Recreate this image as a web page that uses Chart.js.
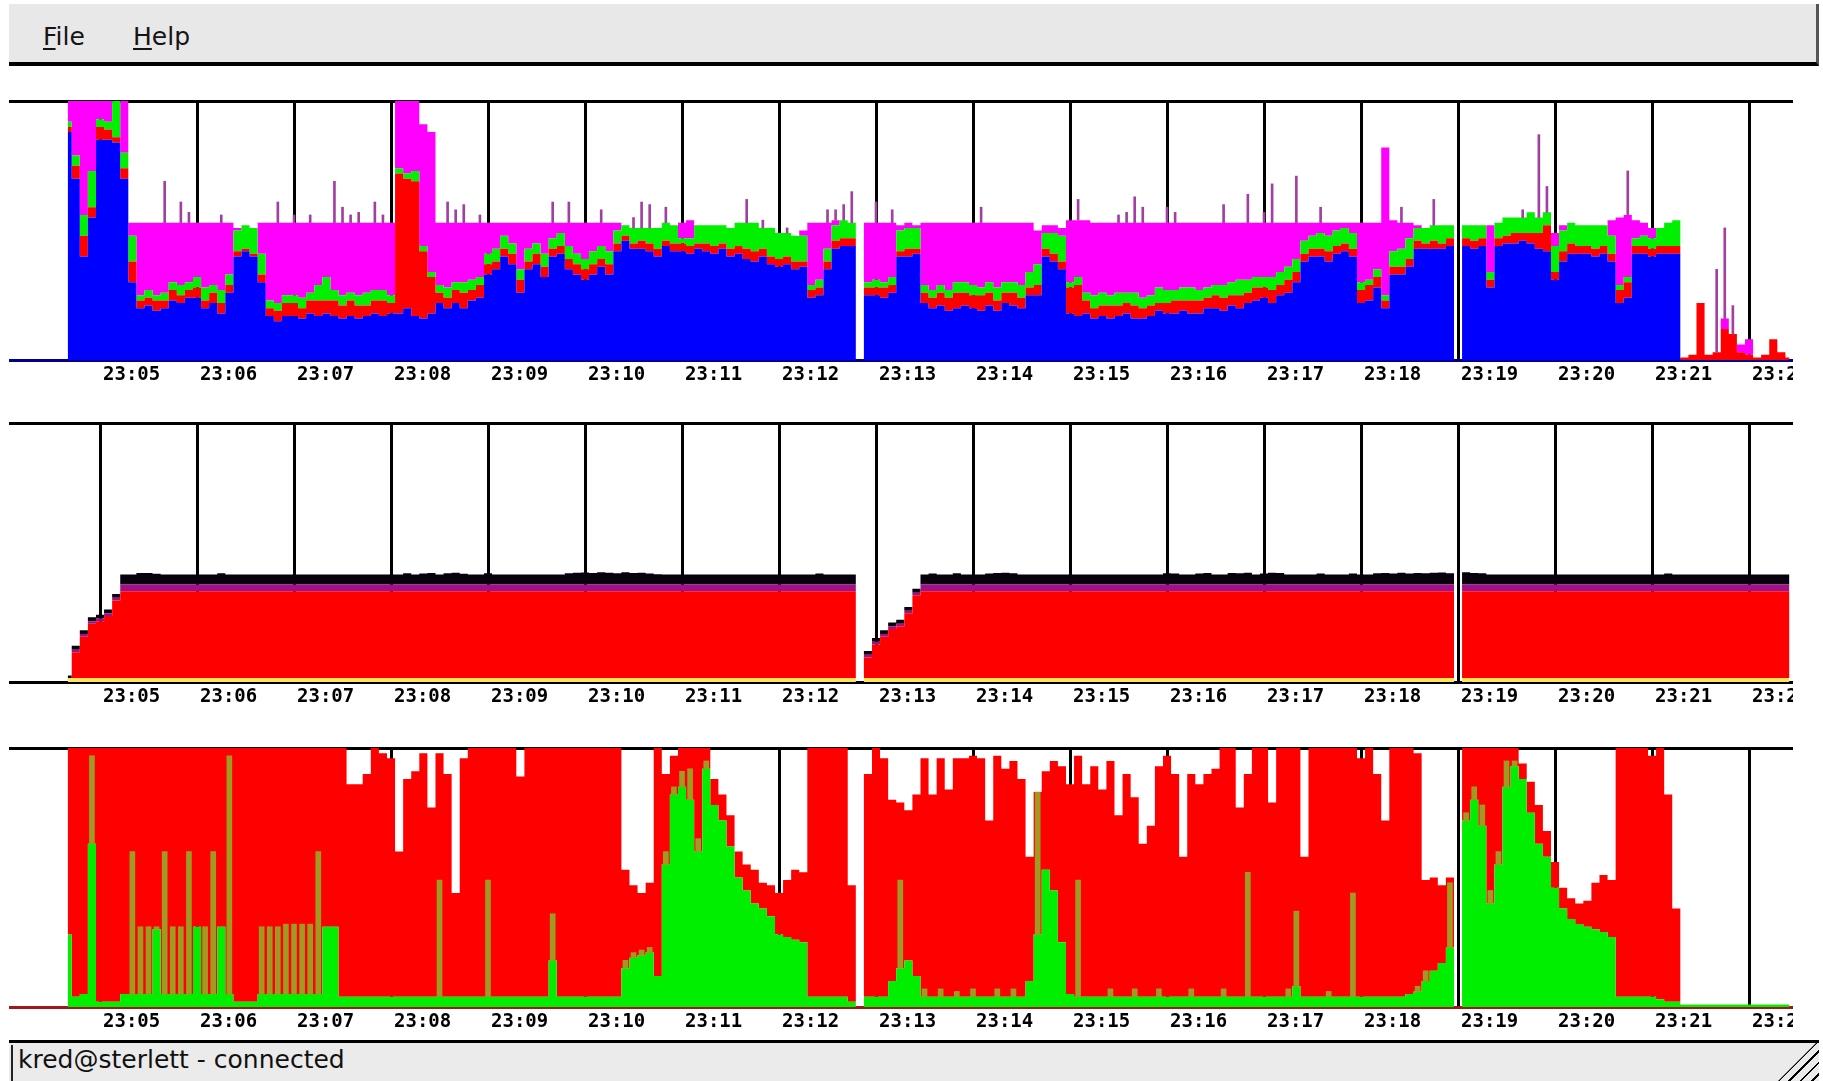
<!DOCTYPE html>
<html lang="en">
<head>
<meta charset="utf-8">
<title>kred@sterlett - monitor</title>
<script src="https://cdn.jsdelivr.net/npm/chart.js@4.4.1/dist/chart.umd.min.js"></script>
<style>
  html, body { margin: 0; padding: 0; background: #fff; }
  body { position: relative; width: 1823px; height: 1081px; overflow: hidden; font-family: "DejaVu Sans", sans-serif; }
  #menubar { position: absolute; left: 9px; top: 4px; width: 1807px; height: 58px; background: #e8e8e8; border-bottom: 4px solid #000; border-right: 3px solid #555; }
  .menu { position: absolute; top: 20px; font-size: 25px; line-height: 25px; color: #151515; white-space: nowrap; }
  .menu u { text-decoration-thickness: 2px; text-underline-offset: 3px; }
  .plot { position: absolute; left: 9px; width: 1784px; height: 293px; }
  #statusbar { position: absolute; left: 9px; top: 1040px; width: 1810px; height: 41px; border-top: 3px solid #000; background: #ebebeb; }
  #status-text { position: absolute; left: 2px; top: 2px; height: 40px; padding: 2px 0 0 5px; border-left: 2px solid #222; font-size: 25px; line-height: 25px; color: #111; white-space: nowrap; }
  #grip { position: absolute; right: 0; bottom: 0; width: 44px; height: 44px;
          background: repeating-linear-gradient(135deg, transparent 0 6px, #000 6px 8px);
          clip-path: polygon(100% 0, 100% 100%, 0 100%); }
</style>
</head>
<body>
<div id="menubar">
  <span class="menu" style="left:34px"><u>F</u>ile</span>
  <span class="menu" style="left:124px"><u>H</u>elp</span>
</div>

<canvas id="chart-cpu" class="plot" width="1784" height="293" style="top:97px"></canvas>
<canvas id="chart-mem" class="plot" width="1784" height="293" style="top:419px"></canvas>
<canvas id="chart-net" class="plot" width="1784" height="293" style="top:744px"></canvas>

<div id="statusbar">
  <div id="status-text">kred@sterlett - connected</div>
  <div id="grip"></div>
</div>

<script>
// ============================================================================
// TIME AXIS (seconds relative to 23:05:00, one sample every 5 s)
// ============================================================================

const SAMPLE_START_S = -20;
const SAMPLE_STEP_S = 5;
const AXIS_MIN_S = -56.3;
const AXIS_MAX_S = 1047.2;

const tickSeconds = [0, 60, 120, 180, 240, 300, 360, 420, 480, 540, 600, 660, 720, 780, 840, 900, 960, 1020];
const tickLabels = ['23:05', '23:06', '23:07', '23:08', '23:09', '23:10', '23:11', '23:12', '23:13',
                    '23:14', '23:15', '23:16', '23:17', '23:18', '23:19', '23:20', '23:21', '23:22'];

// ============================================================================
// TOP STRIP - cpu (percent of strip height, stacked bottom -> top)
// rows: lead-in (4), then one row of 12 samples per minute, last row 6
// ============================================================================

const cpuBlue = [
  88, 70, 40, 55,
  85, 85, 84, 70, 30, 20, 21, 19, 20, 23, 22, 24,
  24, 20, 22, 18, 26, 40, 42, 40, 30, 17, 15, 17,
  17, 16, 18, 17, 18, 17, 16, 17, 16, 17, 18, 17,
  18, 18, 20, 17, 16, 18, 22, 20, 22, 20, 23, 24,
  33, 35, 40, 37, 26, 35, 37, 32, 40, 41, 35, 33,
  31, 33, 36, 33, 42, 46, 43, 43, 42, 40, 44, 42,
  42, 41, 43, 42, 41, 43, 40, 41, 39, 38, 40, 37,
  36, 37, 35, 36, 24, 25, 35, 43, 44, 44, 0, 25,
  25, 24, 26, 40, 40, 41, 22, 20, 21, 19, 20, 21,
  20, 19, 21, 19, 22, 21, 20, 25, 25, 40, 38, 35,
  18, 17, 18, 16, 17, 16, 17, 18, 16, 16, 17, 19,
  18, 18, 19, 18, 18, 20, 20, 19, 21, 20, 22, 23,
  24, 22, 25, 26, 30, 38, 40, 40, 38, 41, 42, 40,
  22, 23, 28, 20, 33, 33, 36, 43, 43, 43, 43, 44,
  0, 44, 43, 44, 28, 44, 45, 45, 46, 45, 43, 42,
  31, 38, 41, 41, 41, 40, 41, 38, 22, 24, 41, 41,
  40, 41, 41, 41, 0, 0, 0, 0, 0, 0, 0, 0,
  0, 0, 0, 0, 0, 0
];

const cpuRed = [
  2, 5, 8, 4,
  5, 4, 2, 4, 8, 3, 3, 4, 3, 4, 3, 3,
  4, 3, 4, 4, 3, 2, 1, 1, 3, 3, 4, 5,
  5, 4, 5, 6, 5, 6, 5, 6, 5, 4, 5, 6,
  4, 54, 50, 52, 26, 14, 4, 4, 5, 6, 4, 5,
  4, 3, 3, 4, 5, 3, 4, 4, 3, 3, 4, 4,
  4, 4, 3, 4, 3, 2, 2, 3, 3, 3, 2, 3,
  3, 3, 2, 3, 3, 2, 3, 3, 4, 4, 3, 3,
  3, 3, 3, 2, 3, 3, 3, 3, 3, 3, 0, 3,
  3, 4, 3, 2, 3, 2, 4, 4, 5, 5, 6, 5,
  5, 6, 5, 4, 4, 5, 4, 3, 4, 3, 3, 3,
  10, 12, 5, 4, 4, 5, 4, 4, 5, 4, 4, 3,
  4, 5, 4, 5, 5, 4, 5, 5, 4, 5, 4, 5,
  4, 5, 4, 5, 4, 3, 3, 3, 4, 3, 3, 3,
  5, 6, 4, 3, 3, 3, 3, 3, 2, 3, 2, 3,
  0, 3, 3, 3, 3, 3, 3, 4, 3, 4, 6, 10,
  3, 4, 4, 3, 3, 3, 3, 3, 5, 6, 3, 3,
  3, 3, 3, 3, 1, 2, 22, 2, 3, 12, 10, 3,
  2, 1, 2, 8, 3, 1
];

const cpuGreen = [
  2, 4, 8, 14,
  3, 3, 14, 6, 10, 2, 3, 2, 3, 3, 4, 3,
  4, 5, 3, 5, 4, 8, 9, 10, 8, 3, 3, 3,
  3, 4, 3, 6, 9, 4, 4, 3, 4, 5, 4, 4,
  3, 2, 2, 4, 2, 2, 3, 4, 3, 4, 4, 3,
  4, 5, 5, 4, 4, 5, 4, 5, 4, 5, 5, 4,
  4, 5, 5, 5, 5, 4, 6, 5, 6, 8, 7, 7,
  2, 3, 7, 7, 8, 7, 8, 9, 10, 11, 8, 11,
  10, 9, 10, 10, 2, 3, 5, 6, 7, 6, 0, 2,
  3, 2, 3, 8, 8, 8, 3, 3, 3, 3, 4, 4,
  4, 3, 4, 5, 4, 4, 5, 6, 8, 6, 8, 10,
  2, 3, 3, 5, 5, 4, 5, 4, 5, 4, 4, 6,
  5, 4, 5, 5, 4, 4, 4, 5, 5, 6, 5, 4,
  4, 5, 5, 5, 5, 5, 5, 6, 6, 6, 6, 6,
  3, 2, 3, 2, 6, 7, 8, 5, 6, 6, 7, 5,
  0, 5, 6, 5, 3, 6, 7, 6, 6, 8, 6, 5,
  10, 8, 8, 8, 8, 9, 8, 7, 2, 2, 3, 4,
  4, 7, 9, 10, 0, 0, 0, 0, 0, 0, 0, 0,
  0, 0, 0, 0, 0, 0
];

const cpuMagenta = [
  8, 21, 44, 27,
  7, 8, 0, 20, 5, 28, 26, 28, 27, 23, 24, 23,
  21, 25, 24, 26, 20, 1, 0, 0, 12, 30, 31, 28,
  28, 29, 27, 24, 21, 26, 28, 27, 28, 27, 26, 26,
  28, 26, 28, 27, 47, 54, 24, 25, 23, 23, 22, 21,
  12, 10, 5, 8, 18, 10, 8, 12, 6, 4, 9, 12,
  14, 11, 9, 11, 3, 0, 0, 0, 0, 0, 0, 0,
  6, 7, 0, 0, 0, 0, 0, 0, 0, 0, 0, 0,
  0, 0, 0, 2, 24, 22, 10, 2, 0, 0, 0, 23,
  22, 23, 21, 2, 2, 1, 24, 26, 24, 26, 23, 23,
  24, 25, 23, 25, 23, 23, 24, 19, 13, 3, 3, 3,
  24, 22, 28, 28, 27, 28, 27, 27, 27, 29, 28, 25,
  26, 26, 25, 25, 26, 25, 24, 24, 23, 22, 22, 21,
  21, 21, 19, 17, 14, 7, 5, 4, 5, 3, 2, 4,
  23, 22, 18, 57, 12, 10, 6, 1, 0, 0, 0, 0,
  0, 0, 0, 0, 18, 0, 0, 0, 0, 0, 0, 0,
  5, 2, 0, 0, 0, 0, 0, 6, 26, 24, 7, 5,
  4, 0, 0, 0, 0, 0, 0, 0, 0, 4, 0, 3,
  6, 0, 0, 0, 0, 0
];

// single-sample peaks above the stack, drawn as thin bars
const cpuSpikes = [
  0, 0, 0, 0,
  0, 0, 0, 0, 0, 0, 0, 0, 16, 0, 8, 4,
  0, 0, 0, 3, 0, 0, 0, 0, 0, 0, 8, 0,
  3, 0, 3, 0, 0, 16, 6, 3, 4, 0, 8, 3,
  0, 0, 0, 0, 0, 0, 0, 8, 5, 7, 0, 3,
  0, 0, 0, 0, 0, 0, 0, 0, 8, 0, 8, 0,
  0, 0, 5, 0, 0, 0, 4, 10, 9, 0, 6, 0,
  0, 0, 0, 0, 0, 0, 0, 0, 9, 0, 3, 0,
  0, 2, 0, 0, 0, 0, 5, 4, 6, 12, 0, 0,
  8, 0, 5, 0, 0, 0, 0, 0, 0, 0, 0, 0,
  0, 6, 0, 0, 0, 0, 0, 0, 0, 0, 0, 0,
  0, 8, 0, 0, 0, 0, 3, 4, 10, 6, 0, 0,
  6, 4, 0, 0, 0, 0, 0, 7, 0, 0, 11, 0,
  4, 15, 0, 0, 18, 0, 0, 6, 0, 0, 0, 0,
  0, 0, 0, 0, 0, 6, 0, 0, 0, 10, 0, 0,
  0, 0, 0, 0, 0, 0, 0, 0, 3, 0, 32, 10,
  0, 0, 0, 0, 0, 0, 0, 0, 0, 17, 0, 0,
  0, 0, 0, 0, 0, 0, 0, 0, 32, 35, 11, 0,
  0, 0, 0, 0, 0, 0
];

// ============================================================================
// MIDDLE STRIP - memory
// ============================================================================

const memYellow = [
  1.5, 1.5, 1.5, 1.5,
  1.5, 1.5, 1.5, 1.5, 1.5, 1.5, 1.5, 1.5, 1.5, 1.5, 1.5, 1.5,
  1.5, 1.5, 1.5, 1.5, 1.5, 1.5, 1.5, 1.5, 1.5, 1.5, 1.5, 1.5,
  1.5, 1.5, 1.5, 1.5, 1.5, 1.5, 1.5, 1.5, 1.5, 1.5, 1.5, 1.5,
  1.5, 1.5, 1.5, 1.5, 1.5, 1.5, 1.5, 1.5, 1.5, 1.5, 1.5, 1.5,
  1.5, 1.5, 1.5, 1.5, 1.5, 1.5, 1.5, 1.5, 1.5, 1.5, 1.5, 1.5,
  1.5, 1.5, 1.5, 1.5, 1.5, 1.5, 1.5, 1.5, 1.5, 1.5, 1.5, 1.5,
  1.5, 1.5, 1.5, 1.5, 1.5, 1.5, 1.5, 1.5, 1.5, 1.5, 1.5, 1.5,
  1.5, 1.5, 1.5, 1.5, 1.5, 1.5, 1.5, 1.5, 1.5, 1.5, 0, 1.5,
  1.5, 1.5, 1.5, 1.5, 1.5, 1.5, 1.5, 1.5, 1.5, 1.5, 1.5, 1.5,
  1.5, 1.5, 1.5, 1.5, 1.5, 1.5, 1.5, 1.5, 1.5, 1.5, 1.5, 1.5,
  1.5, 1.5, 1.5, 1.5, 1.5, 1.5, 1.5, 1.5, 1.5, 1.5, 1.5, 1.5,
  1.5, 1.5, 1.5, 1.5, 1.5, 1.5, 1.5, 1.5, 1.5, 1.5, 1.5, 1.5,
  1.5, 1.5, 1.5, 1.5, 1.5, 1.5, 1.5, 1.5, 1.5, 1.5, 1.5, 1.5,
  1.5, 1.5, 1.5, 1.5, 1.5, 1.5, 1.5, 1.5, 1.5, 1.5, 1.5, 1.5,
  0, 1.5, 1.5, 1.5, 1.5, 1.5, 1.5, 1.5, 1.5, 1.5, 1.5, 1.5,
  1.5, 1.5, 1.5, 1.5, 1.5, 1.5, 1.5, 1.5, 1.5, 1.5, 1.5, 1.5,
  1.5, 1.5, 1.5, 1.5, 1.5, 1.5, 1.5, 1.5, 1.5, 1.5, 1.5, 1.5,
  1.5, 1.5, 1.5, 1.5, 1.5, 1.5
];

const memRed = [
  0, 10, 16, 21,
  22, 24, 30, 33.5, 33.5, 33.5, 33.5, 33.5, 33.5, 33.5, 33.5, 33.5,
  33.5, 33.5, 33.5, 33.5, 33.5, 33.5, 33.5, 33.5, 33.5, 33.5, 33.5, 33.5,
  33.5, 33.5, 33.5, 33.5, 33.5, 33.5, 33.5, 33.5, 33.5, 33.5, 33.5, 33.5,
  33.5, 33.5, 33.5, 33.5, 33.5, 33.5, 33.5, 33.5, 33.5, 33.5, 33.5, 33.5,
  33.5, 33.5, 33.5, 33.5, 33.5, 33.5, 33.5, 33.5, 33.5, 33.5, 33.5, 33.5,
  33.5, 33.5, 33.5, 33.5, 33.5, 33.5, 33.5, 33.5, 33.5, 33.5, 33.5, 33.5,
  33.5, 33.5, 33.5, 33.5, 33.5, 33.5, 33.5, 33.5, 33.5, 33.5, 33.5, 33.5,
  33.5, 33.5, 33.5, 33.5, 33.5, 33.5, 33.5, 33.5, 33.5, 33.5, 0, 8,
  13, 16, 19, 20, 25, 32, 33.5, 33.5, 33.5, 33.5, 33.5, 33.5,
  33.5, 33.5, 33.5, 33.5, 33.5, 33.5, 33.5, 33.5, 33.5, 33.5, 33.5, 33.5,
  33.5, 33.5, 33.5, 33.5, 33.5, 33.5, 33.5, 33.5, 33.5, 33.5, 33.5, 33.5,
  33.5, 33.5, 33.5, 33.5, 33.5, 33.5, 33.5, 33.5, 33.5, 33.5, 33.5, 33.5,
  33.5, 33.5, 33.5, 33.5, 33.5, 33.5, 33.5, 33.5, 33.5, 33.5, 33.5, 33.5,
  33.5, 33.5, 33.5, 33.5, 33.5, 33.5, 33.5, 33.5, 33.5, 33.5, 33.5, 33.5,
  0, 33.5, 33.5, 33.5, 33.5, 33.5, 33.5, 33.5, 33.5, 33.5, 33.5, 33.5,
  33.5, 33.5, 33.5, 33.5, 33.5, 33.5, 33.5, 33.5, 33.5, 33.5, 33.5, 33.5,
  33.5, 33.5, 33.5, 33.5, 33.5, 33.5, 33.5, 33.5, 33.5, 33.5, 33.5, 33.5,
  33.5, 33.5, 33.5, 33.5, 33.5, 33.5
];

const memPurple = [
  0, 1, 1, 1,
  1, 1, 1, 2.6, 2.6, 2.6, 2.6, 2.6, 2.6, 2.6, 2.6, 2.6,
  2.6, 2.6, 2.6, 2.6, 2.6, 2.6, 2.6, 2.6, 2.6, 2.6, 2.6, 2.6,
  2.6, 2.6, 2.6, 2.6, 2.6, 2.6, 2.6, 2.6, 2.6, 2.6, 2.6, 2.6,
  2.6, 2.6, 2.6, 2.6, 2.6, 2.6, 2.6, 2.6, 2.6, 2.6, 2.6, 2.6,
  2.6, 2.6, 2.6, 2.6, 2.6, 2.6, 2.6, 2.6, 2.6, 2.6, 2.6, 2.6,
  2.6, 2.6, 2.6, 2.6, 2.6, 2.6, 2.6, 2.6, 2.6, 2.6, 2.6, 2.6,
  2.6, 2.6, 2.6, 2.6, 2.6, 2.6, 2.6, 2.6, 2.6, 2.6, 2.6, 2.6,
  2.6, 2.6, 2.6, 2.6, 2.6, 2.6, 2.6, 2.6, 2.6, 2.6, 0, 1,
  1, 1, 1, 1, 1, 1, 2.6, 2.6, 2.6, 2.6, 2.6, 2.6,
  2.6, 2.6, 2.6, 2.6, 2.6, 2.6, 2.6, 2.6, 2.6, 2.6, 2.6, 2.6,
  2.6, 2.6, 2.6, 2.6, 2.6, 2.6, 2.6, 2.6, 2.6, 2.6, 2.6, 2.6,
  2.6, 2.6, 2.6, 2.6, 2.6, 2.6, 2.6, 2.6, 2.6, 2.6, 2.6, 2.6,
  2.6, 2.6, 2.6, 2.6, 2.6, 2.6, 2.6, 2.6, 2.6, 2.6, 2.6, 2.6,
  2.6, 2.6, 2.6, 2.6, 2.6, 2.6, 2.6, 2.6, 2.6, 2.6, 2.6, 2.6,
  0, 2.6, 2.6, 2.6, 2.6, 2.6, 2.6, 2.6, 2.6, 2.6, 2.6, 2.6,
  2.6, 2.6, 2.6, 2.6, 2.6, 2.6, 2.6, 2.6, 2.6, 2.6, 2.6, 2.6,
  2.6, 2.6, 2.6, 2.6, 2.6, 2.6, 2.6, 2.6, 2.6, 2.6, 2.6, 2.6,
  2.6, 2.6, 2.6, 2.6, 2.6, 2.6
];

const memBlack = [
  1, 1.5, 1.5, 1.5,
  1.5, 1.5, 1.5, 3.9, 3.9, 4.5, 4.5, 4.2, 3.9, 3.9, 3.9, 3.9,
  3.9, 3.9, 3.9, 4.4, 3.9, 3.9, 3.9, 3.9, 3.9, 3.9, 3.9, 3.9,
  3.9, 3.9, 3.9, 3.9, 3.9, 3.9, 3.9, 3.9, 3.9, 3.9, 3.9, 3.9,
  3.9, 3.9, 4.4, 3.9, 4.3, 4.5, 3.9, 4.4, 4.6, 4.2, 3.9, 3.9,
  4.4, 3.9, 3.9, 3.9, 3.9, 3.9, 3.9, 3.9, 3.9, 3.9, 4.4, 4.6,
  4.7, 4.5, 4.8, 4.6, 4.4, 4.8, 4.5, 4.6, 4.3, 4.0, 3.9, 3.9,
  3.9, 3.9, 3.9, 3.9, 3.9, 3.9, 3.9, 3.9, 3.9, 3.9, 3.9, 3.9,
  3.9, 3.9, 3.9, 3.9, 3.9, 4.3, 3.9, 3.9, 3.9, 3.9, 0, 1.5,
  1.5, 1.5, 1.5, 1.5, 1.5, 1.5, 3.9, 4.3, 3.9, 3.9, 4.4, 3.9,
  3.9, 3.9, 4.3, 4.5, 4.6, 4.4, 3.9, 3.9, 3.9, 3.9, 3.9, 3.9,
  3.9, 3.9, 3.9, 3.9, 3.9, 3.9, 3.9, 3.9, 3.9, 3.9, 3.9, 3.9,
  4.4, 4.3, 3.9, 3.9, 4.3, 4.5, 3.9, 3.9, 4.5, 4.4, 4.6, 3.9,
  4.3, 4.6, 4.5, 3.9, 3.9, 3.9, 3.9, 4.3, 3.9, 3.9, 3.9, 4.3,
  3.9, 3.9, 4.4, 4.5, 4.3, 4.6, 4.3, 4.5, 4.4, 4.6, 4.7, 4.4,
  0, 4.8, 4.5, 4.4, 3.9, 3.9, 3.9, 3.9, 3.9, 3.9, 3.9, 3.9,
  3.9, 3.9, 3.9, 3.9, 3.9, 3.9, 3.9, 3.9, 3.9, 3.9, 3.9, 3.9,
  3.9, 3.9, 4.3, 3.9, 3.9, 3.9, 3.9, 3.9, 3.9, 3.9, 3.9, 3.9,
  3.9, 3.9, 3.9, 3.9, 3.9, 3.9
];

// ============================================================================
// BOTTOM STRIP - network / disk
// ============================================================================

const netGreen = [
  28, 4, 5, 63,
  2, 2, 2, 5, 5, 5, 5, 30, 5, 5, 5, 5,
  31, 5, 5, 31, 5, 2, 2, 2, 5, 5, 5, 5,
  5, 5, 5, 5, 31, 31, 4, 4, 4, 4, 4, 4,
  4, 4, 4, 4, 4, 4, 4, 4, 4, 4, 4, 4,
  4, 4, 4, 4, 4, 4, 4, 4, 18, 4, 4, 4,
  4, 4, 4, 4, 4, 15, 19, 20, 21, 12, 55, 82,
  85, 80, 60, 92, 78, 72, 62, 50, 45, 40, 38, 35,
  28, 27, 26, 25, 4, 4, 4, 4, 4, 2, 0, 4,
  4, 4, 10, 15, 18, 12, 4, 4, 4, 4, 4, 4,
  4, 4, 4, 4, 4, 4, 4, 10, 28, 53, 45, 25,
  5, 4, 4, 4, 4, 4, 4, 4, 4, 4, 4, 4,
  4, 4, 4, 4, 4, 4, 4, 4, 4, 4, 4, 4,
  4, 4, 4, 4, 8, 4, 4, 4, 4, 4, 4, 4,
  4, 4, 4, 4, 4, 4, 5, 6, 10, 14, 17, 23,
  0, 72, 80, 70, 40, 55, 85, 93, 88, 75, 63, 58,
  46, 38, 34, 32, 31, 30, 29, 27, 4, 4, 4, 4,
  4, 3, 2, 2, 1, 1, 1, 1, 1, 1, 1, 1,
  1, 1, 1, 1, 1, 1
];

// olive bars sit on top of the green, inside the red
const netOlive = [
  0, 0, 0, 34,
  0, 0, 0, 0, 55, 26, 26, 1, 55, 26, 26, 55,
  0, 26, 55, 0, 92, 0, 0, 0, 26, 26, 26, 27,
  27, 27, 27, 55, 0, 0, 0, 0, 0, 0, 0, 0,
  0, 0, 0, 0, 0, 0, 45, 0, 0, 0, 0, 0,
  45, 0, 0, 0, 0, 0, 0, 0, 18, 0, 0, 0,
  0, 0, 0, 0, 0, 3, 2, 2, 2, 0, 5, 3,
  6, 12, 5, 3, 0, 0, 0, 0, 0, 0, 0, 0,
  0, 0, 0, 0, 0, 0, 0, 0, 0, 0, 0, 0,
  0, 0, 0, 34, 0, 0, 3, 0, 3, 0, 2, 0,
  3, 0, 0, 3, 0, 3, 0, 0, 55, 0, 0, 0,
  0, 45, 0, 0, 0, 3, 0, 0, 3, 0, 0, 3,
  0, 0, 0, 3, 0, 0, 0, 3, 0, 0, 48, 0,
  0, 0, 0, 3, 29, 0, 0, 0, 2, 0, 0, 40,
  0, 0, 0, 0, 0, 0, 0, 2, 4, 0, 0, 25,
  0, 3, 5, 8, 5, 5, 10, 2, 0, 0, 0, 0,
  0, 0, 0, 0, 0, 0, 0, 0, 0, 0, 0, 0,
  0, 0, 0, 0, 0, 0, 0, 0, 0, 0, 0, 0,
  0, 0, 0, 0, 0, 0
];

const netRed = [
  72, 96, 95, 3,
  98, 98, 98, 95, 40, 69, 69, 69, 40, 69, 69, 40,
  69, 69, 40, 69, 3, 98, 98, 98, 69, 69, 69, 68,
  68, 68, 68, 40, 69, 69, 96, 82, 82, 86, 96, 94,
  92, 56, 84, 87, 94, 73, 49, 86, 40, 92, 96, 96,
  51, 96, 96, 96, 85, 96, 96, 96, 64, 96, 96, 96,
  96, 96, 96, 96, 96, 35, 26, 22, 25, 88, 30, 12,
  9, 8, 35, 5, 10, 10, 12, 10, 10, 13, 10, 12,
  16, 22, 27, 27, 96, 96, 96, 96, 96, 45, 0, 86,
  96, 92, 70, 30, 58, 70, 89, 78, 89, 80, 90, 92,
  90, 92, 68, 90, 88, 88, 84, 48, 0, 38, 50, 68,
  81, 48, 82, 89, 80, 88, 70, 86, 74, 59, 66, 86,
  93, 86, 54, 83, 82, 86, 88, 93, 96, 73, 38, 96,
  96, 75, 96, 93, 63, 54, 96, 96, 94, 96, 96, 56,
  92, 96, 86, 68, 96, 96, 95, 90, 35, 36, 30, 2,
  0, 25, 15, 22, 55, 40, 5, 5, 6, 12, 15, 10,
  10, 8, 8, 8, 10, 18, 22, 22, 96, 96, 96, 96,
  93, 97, 80, 36, 0, 0, 0, 0, 0, 0, 0, 0,
  0, 0, 0, 0, 0, 0
];

// ============================================================================
// HELPERS
// ============================================================================

function _sampleTime(i) {
  return SAMPLE_START_S + i * SAMPLE_STEP_S;
}

function _sumAt(seriesList, i) {
  return seriesList.reduce((acc, s) => acc + s[i], 0);
}

function _area(label, values, color, first) {
  return {
    label: label,
    data: values.map((v, i) => ({ x: _sampleTime(i), y: v })),
    backgroundColor: color,
    borderColor: color,
    borderWidth: 0,
    fill: first ? 'origin' : '-1',
    pointRadius: 0,
    stepped: 'middle',
    tension: 0
  };
}

// floating bars: start at the top of the given stack, rise by the value
function _peaks(label, baseList, values, color, thickness) {
  const data = [];
  values.forEach((v, i) => {
    if (v <= 0) return;
    const base = _sumAt(baseList, i);
    data.push({ x: _sampleTime(i), y: [base, base + v] });
  });
  return {
    type: 'bar',
    label: label,
    stack: label,
    order: -1,
    data: data,
    backgroundColor: color,
    borderWidth: 0,
    barThickness: thickness,
    grouped: false
  };
}

function _makeStrip(canvasId, datasets, baseColor) {
  const canvas = document.getElementById(canvasId);
  if (!canvas) {
    console.warn(`Canvas element not found: ${canvasId}`);
    return null;
  }
  return new Chart(canvas.getContext('2d'), {
    type: 'line',
    data: { datasets: datasets },
    options: {
      responsive: false,
      animation: false,
      devicePixelRatio: 1,
      events: [],
      layout: { padding: { top: 4, right: 0, bottom: 0, left: 0 } },
      plugins: { legend: { display: false }, tooltip: { enabled: false } },
      scales: {
        x: {
          type: 'linear',
          min: AXIS_MIN_S,
          max: AXIS_MAX_S,
          offset: false,
          afterBuildTicks: (scale) => { scale.ticks = tickSeconds.map(v => ({ value: v })); },
          afterFit: (scale) => { scale.paddingLeft = 0; scale.paddingRight = 0; scale.height = 30; },
          ticks: {
            autoSkip: false,
            maxRotation: 0,
            minRotation: 0,
            align: 'start',
            labelOffset: 3,
            padding: 4,
            color: '#000',
            font: { family: '"DejaVu Sans Mono", monospace', size: 19, weight: 'bold' },
            callback: (v, i) => tickLabels[i]
          },
          grid: { color: '#000', lineWidth: 3, drawTicks: false, offset: false },
          border: { display: true, color: baseColor, width: 3 }
        },
        y: {
          stacked: true,
          min: 0,
          max: 100,
          afterFit: (scale) => { scale.width = 0; scale.paddingTop = 0; scale.paddingBottom = 0; },
          ticks: { display: false, stepSize: 50 },
          grid: {
            color: (c) => (c.tick && c.tick.value === 100 ? '#000' : 'rgba(0,0,0,0)'),
            lineWidth: 3,
            drawTicks: false
          },
          border: { display: false }
        }
      }
    }
  });
}

// ============================================================================
// BUILD
// ============================================================================

// red area of the bottom strip covers the olive slot too; olive bars are laid over it
const netRedOverGreen = netRed.map((v, i) => v + netOlive[i]);

const strips = {
  cpu: _makeStrip('chart-cpu', [
    _area('user', cpuBlue, '#0000ff', true),
    _area('nice', cpuRed, '#ff0000'),
    _area('system', cpuGreen, '#00f000'),
    _area('iowait', cpuMagenta, '#ff00ff'),
    _peaks('other', [cpuBlue, cpuRed, cpuGreen, cpuMagenta], cpuSpikes, '#a040a0', 2)
  ], '#00008b'),
  mem: _makeStrip('chart-mem', [
    _area('buffers', memYellow, '#ffe45a', true),
    _area('used', memRed, '#ff0000'),
    _area('cached', memPurple, '#a0108a'),
    _area('shared', memBlack, '#08000c')
  ], '#000000'),
  net: _makeStrip('chart-net', [
    _area('in', netGreen, '#00ee00', true),
    _area('out', netRedOverGreen, '#ff0000'),
    _peaks('both', [netGreen], netOlive, '#9e9a22', 5)
  ], '#a01818')
};

[cpuBlue, cpuRed, cpuGreen, cpuMagenta, cpuSpikes, memYellow, memRed, memPurple, memBlack,
 netGreen, netOlive, netRed].forEach((a, k) => {
  if (a.length !== 214) console.warn('series', k, 'has', a.length, 'samples');
});
console.log('strips drawn', Object.keys(strips));
</script>
</body>
</html>
